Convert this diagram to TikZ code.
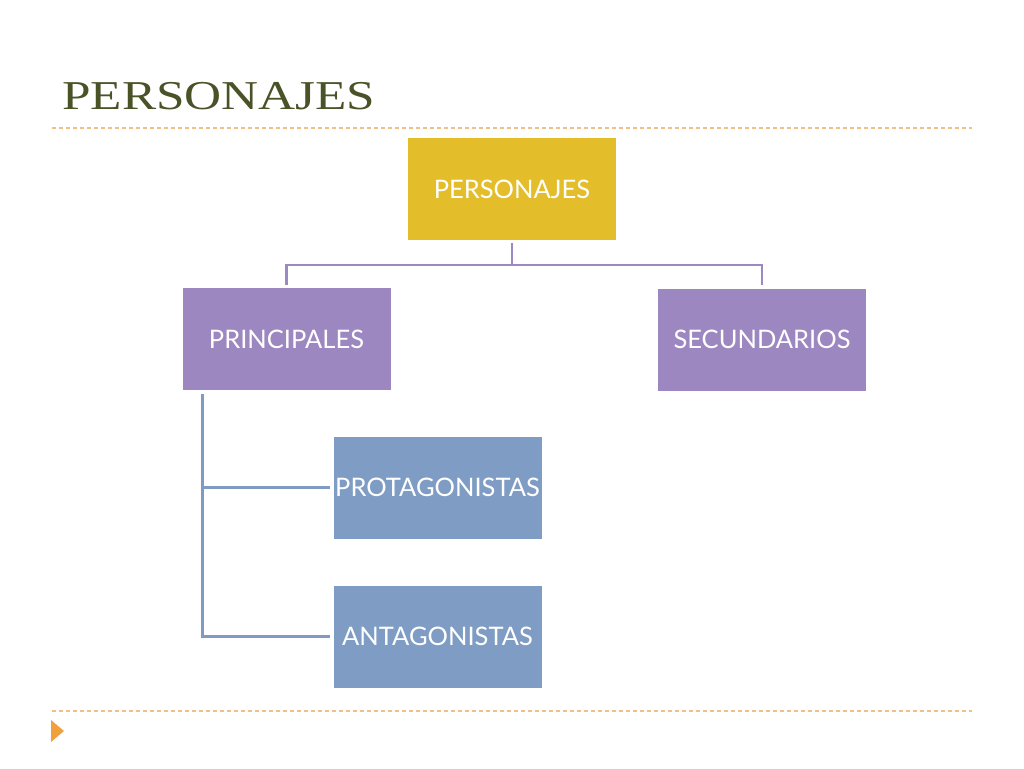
\documentclass[tikz,border=0pt]{standalone}
\usepackage{fontspec}
\setmainfont{Liberation Serif}
\newfontfamily\boxfont{Lato}
\definecolor{titlecol}{HTML}{4A5228}
\definecolor{dashcol}{HTML}{F1C088}
\definecolor{tricol}{HTML}{F0A03C}
\definecolor{yellowbox}{HTML}{E4BD2B}
\definecolor{purplebox}{HTML}{9D87C1}
\definecolor{bluebox}{HTML}{7F9DC4}
\definecolor{pline}{HTML}{9C88C3}
\definecolor{bline}{HTML}{7F9BC4}
\tikzset{
  boxstyle/.style={rectangle, minimum width=208pt, minimum height=102pt, inner sep=0pt, text=white, font=\boxfont\fontsize{25.5}{30}\selectfont},
  ybox/.style={boxstyle, fill=yellowbox},
  pbox/.style={boxstyle, fill=purplebox},
  bbox/.style={boxstyle, fill=bluebox},
  pconn/.style={draw=pline, line width=2.5pt},
  bconn/.style={draw=bline, line width=2.5pt},
  rule/.style={draw=dashcol, line width=1.3pt, dash pattern=on 4pt off 3pt}
}
\begin{document}
\begin{tikzpicture}[x=1pt,y=-1pt]
\useasboundingbox[fill=white] (0,0) rectangle (1024,768);
% title
\node[anchor=base west, inner sep=0pt, text=titlecol, font=\fontsize{41}{46}\selectfont] (title) at (62,109) {\scalebox{1.25}[1]{PERSONAJES}};
% rules
\coordinate (r1a) at (52,128); \coordinate (r1b) at (972,128);
\coordinate (r2a) at (52,711); \coordinate (r2b) at (972,711);
\draw[rule] (r1a) -- (r1b);
\draw[rule] (r2a) -- (r2b);
% triangle
\fill[tricol] (51,720) -- (64,731) -- (51,742) -- cycle;
% boxes
\node[ybox] (top) at (512,189) {PERSONAJES};
\node[pbox] (prin) at (286.5,339) {PRINCIPALES};
\node[pbox] (sec) at (762,339.5) {SECUNDARIOS};
\node[bbox] (prot) at (437.5,487.5) {PROTAGONISTAS};
\node[bbox] (ant) at (437.5,636.5) {ANTAGONISTAS};
% connectors
\coordinate (elbow) at (512,265);
\draw[pconn] ([yshift=-3pt]top.south) -- (elbow);
\draw[pconn] (elbow) -| ([yshift=3pt]prin.north);
\draw[pconn] (elbow) -| ([yshift=3pt]sec.north);
\coordinate (bstart) at ([shift={(20pt,-4pt)}]prin.south west);
\draw[bconn] (bstart) |- ([xshift=-3pt]prot.west);
\draw[bconn] (bstart) |- ([xshift=-3pt]ant.west);
\end{tikzpicture}
\end{document}
